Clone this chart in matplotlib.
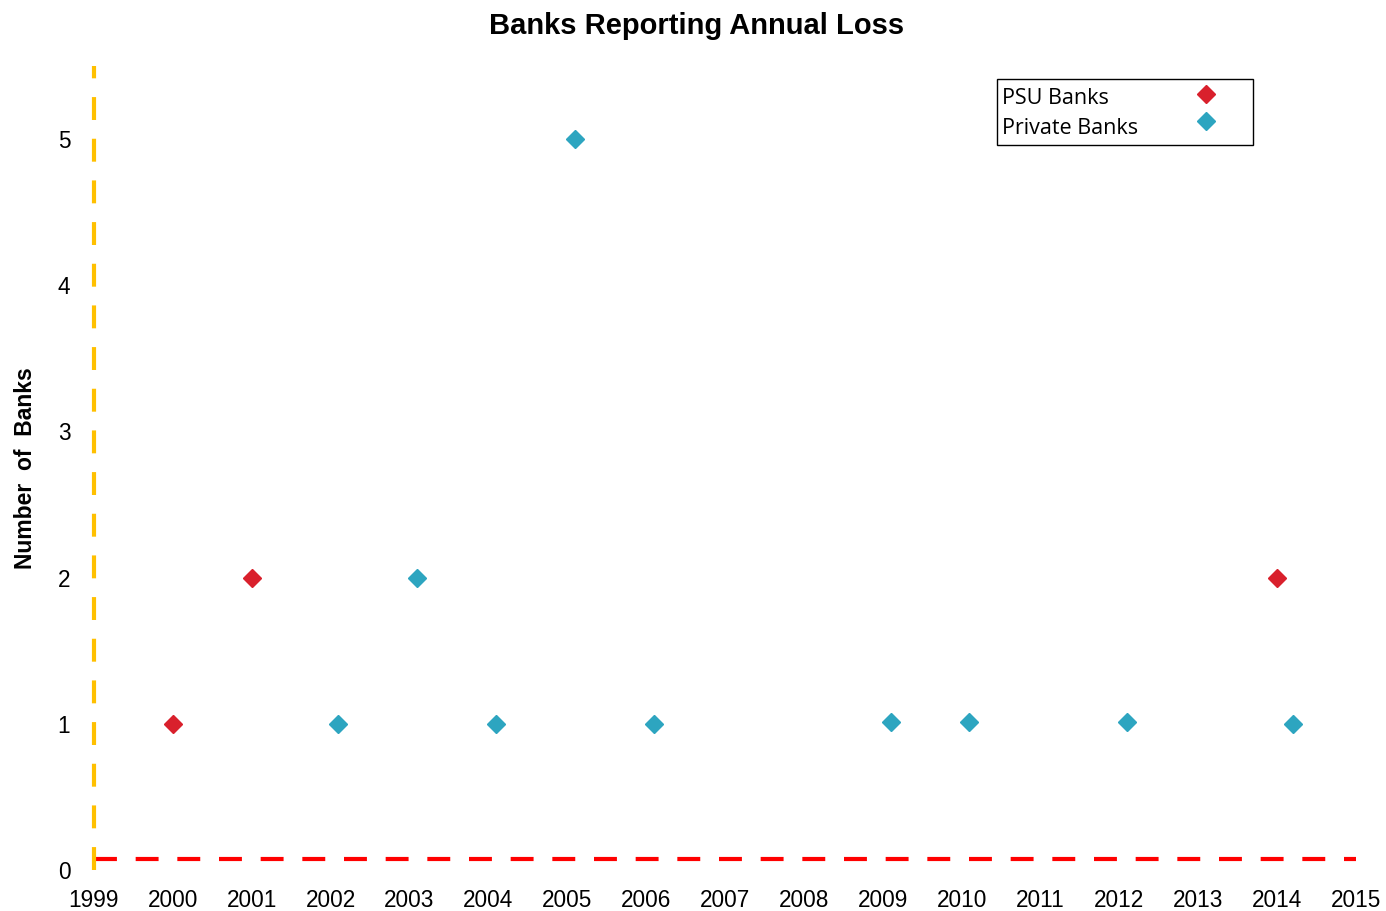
import numpy as np
import matplotlib.pyplot as plt
from matplotlib.patches import Rectangle
from matplotlib.lines import Line2D

plt.rcParams['font.family'] = ['Liberation Sans', 'DejaVu Sans']

psu_years = [2000.0, 2001.0, 2014.0]
psu_counts = [1, 2, 2]

pvt_years = [2002.1, 2003.1, 2004.1, 2005.1, 2006.1, 2009.1, 2010.1, 2012.1, 2014.2]
pvt_counts = [1, 2, 1, 5, 1, 1.01, 1.01, 1.01, 1]

year_ticks = list(range(1999, 2016))
count_ticks = [0, 1, 2, 3, 4, 5]

psu_color = '#D9202C'
pvt_color = '#2DA5C0'

fig = plt.figure(figsize=(13.86, 9.11), dpi=100)
ax = fig.add_axes([0.0678, 0.045, 0.9105, 0.8826])

ax.plot(psu_years, psu_counts, 'D', color=psu_color, markersize=9.5, zorder=3)
ax.plot(pvt_years, pvt_counts, 'D', color=pvt_color, markersize=9.5, zorder=3)

# dashed reference lines on the axes
ax.plot([1999, 2015], [0.075, 0.075], color='#FF0000', linewidth=3, dashes=(5.5, 4.5),
        zorder=2, clip_on=False)
ax.plot([1999, 1999], [0, 5.5], color='#FFC000', linewidth=3, dashes=(5.5, 4.5),
        zorder=2, clip_on=False)

ax.set_xlim(1999, 2015)
ax.set_ylim(0, 5.5)
ax.set_xticks(year_ticks)
ax.set_yticks(count_ticks)
ax.tick_params(length=0, labelsize=16.3)
ax.tick_params(axis='x', pad=14)
ax.tick_params(axis='y', pad=17)
for s in ax.spines.values():
    s.set_visible(False)

ax.set_ylabel('Number  of  Banks', fontsize=16.5, fontweight='bold', labelpad=15)
fig.text(697 / 1386, 1 - 26 / 911, 'Banks Reporting Annual Loss', fontsize=21,
         fontweight='bold', ha='center', va='center')

# legend box drawn by hand: text left, marker right
W, H = 1386, 911
fig.patches.append(Rectangle((997 / W, 1 - 145 / H), 256 / W, 66 / H, transform=fig.transFigure,
                             facecolor='white', edgecolor='black', linewidth=1, zorder=5))
legend_rows = [('PSU Banks', psu_color, 98, 94), ('Private Banks', pvt_color, 129, 121)]
for label, col, ty, my in legend_rows:
    fig.text(1002 / W, 1 - ty / H, label, family=['Open Sans', 'DejaVu Sans'], fontsize=15.5,
             va='center', ha='left', zorder=6)
    fig.lines.append(Line2D([1206 / W], [1 - my / H], marker='D', color=col, markersize=9.5,
                            linestyle='none', transform=fig.transFigure, zorder=6))

fig.savefig('out.png', dpi=100)
